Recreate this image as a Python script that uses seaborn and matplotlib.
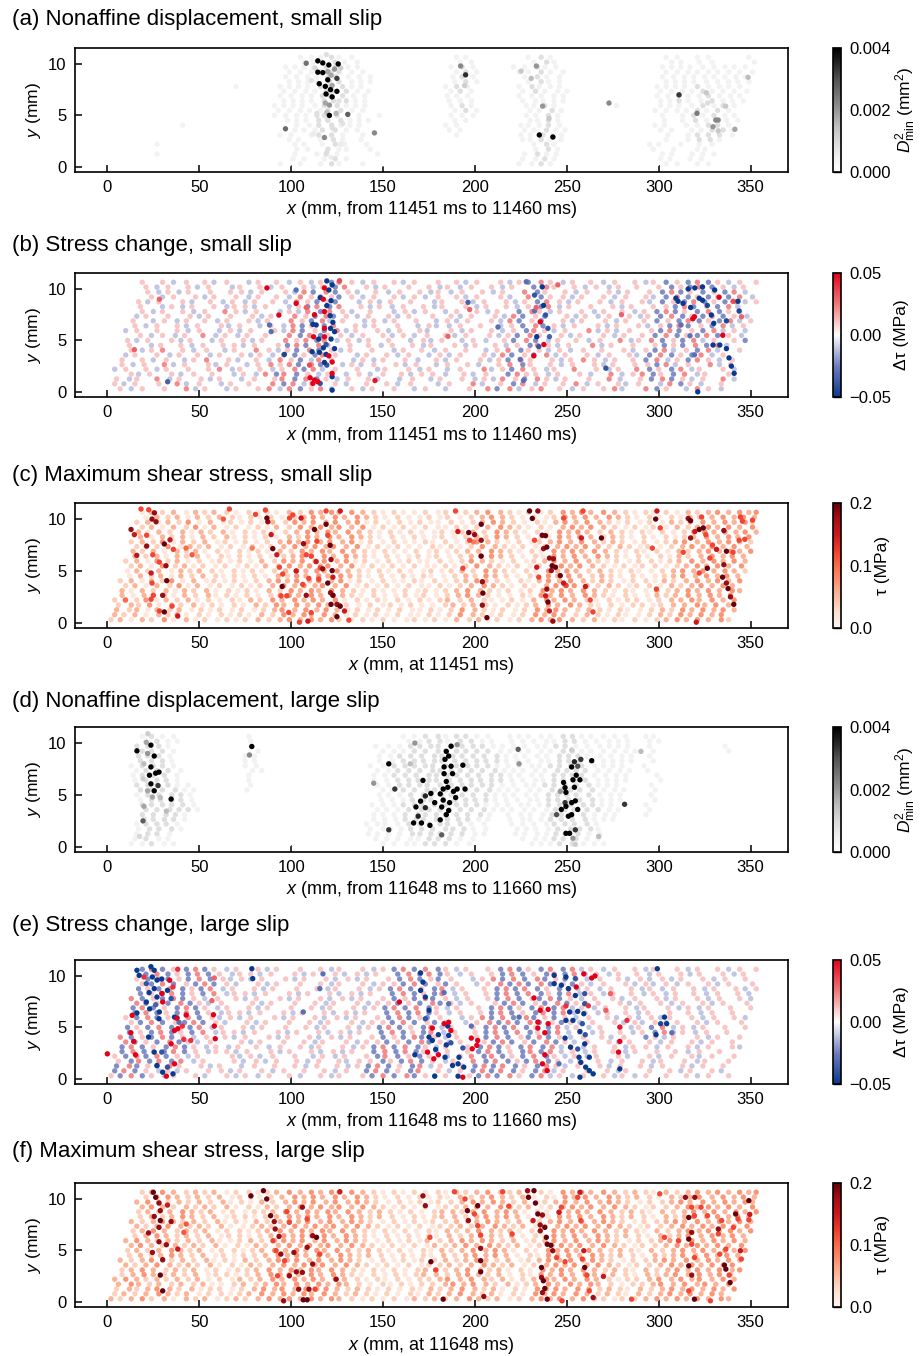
import numpy as np
import pandas as pd
import matplotlib
matplotlib.use("Agg")
import matplotlib.pyplot as plt
import seaborn as sns
from matplotlib.colors import LinearSegmentedColormap, Normalize
from matplotlib.ticker import FuncFormatter

sns.set_style("ticks")
plt.rcParams["font.family"] = ["Liberation Sans", "DejaVu Sans"]
plt.rcParams["mathtext.fontset"] = "custom"
plt.rcParams["mathtext.rm"] = "Liberation Sans"
plt.rcParams["mathtext.it"] = "Liberation Sans:italic"
for key in ["text.color", "axes.labelcolor", "xtick.color", "ytick.color", "axes.edgecolor"]:
    plt.rcParams[key] = "black"

# particle layer heights (mm) and x positions along each layer (mm)
ROW_Y = [0.3, 0.78, 1.25, 1.72, 2.2, 2.65, 3.1, 3.58, 4.05, 4.52, 5.0, 5.48,
         5.95, 6.42, 6.9, 7.35, 7.8, 8.28, 8.75, 9.22, 9.7, 10.18, 10.65]
ROW_X = [
    [2,7,13,19,24,31,36,43,48,53,60,65,70,75,82,88,94,99,105,111,116,122,126,133,139,144,150,156,163,167,173,178,184,190,197,202,207,212,219,224,231,236,241,246,253,259,265,270,276,280,287,293,299,304,310,315,321,327,334,338],
    [4,9,15,21,28,33,38,43,50,55,62,67,72,77,84,90,96,101,107,111,118,124,130,135,141,146,152,158,165,169,175,180,186,192,199,204,209,214,221,226,233,238,243,248,255,261,267,272,278,282,289,295,301,306,312,317,323,329,334],
    [5,12,16,22,27,34,39,46,51,56,61,68,73,80,85,91,95,102,108,114,119,125,131,136,142,147,153,159,166,170,176,181,187,193,200,205,210,215,222,227,234,239,244,249,256,262,268,273,279,283,290,296,302,307,313,318,324,330,335,341],
    [6,13,17,23,28,35,40,47,52,57,62,69,74,81,86,92,96,103,109,115,120,126,130,137,143,150,154,160,165,171,177,184,188,194,199,206,211,218,223,228,233,240,245,252,257,263,267,274,280,286,291,297,301,308,314,321,325,331,338],
    [4,10,16,21,27,32,38,44,49,55,61,68,72,78,83,90,95,102,107,112,117,124,129,136,141,147,151,158,164,170,175,181,185,192,198,205,209,215,220,226,232,239,243,249,254,261,266,273,278,283,288,295,300,307,312,318,322,329,335,341],
    [8,14,20,25,31,36,42,48,55,59,65,70,76,82,89,94,99,104,111,116,123,128,133,138,145,151,157,162,168,172,179,185,191,196,202,207,213,219,226,230,236,241,247,253,260,265,270,275,282,287,294,299,304,309,316,322,328,333,339],
    [8,13,19,25,32,37,42,47,54,59,66,71,76,81,88,94,100,105,111,115,122,128,134,139,145,150,156,162,169,173,179,184,190,196,203,208,213,218,225,230,237,242,247,252,259,265,271,276,282,286,293,299,305,310,316,321,327,333,340,344],
    [10,15,21,27,34,39,44,49,56,61,68,73,78,83,90,96,102,107,113,117,124,130,136,141,147,152,158,164,171,175,181,186,192,198,205,210,215,220,227,232,239,244,249,254,261,267,273,278,284,288,295,301,307,312,318,323,329,335,340],
    [7,13,19,24,30,35,41,47,54,58,64,69,75,81,88,93,98,103,110,115,122,127,132,137,144,150,156,161,167,171,178,184,190,195,201,206,212,218,225,229,235,240,246,252,259,264,269,274,281,286,293,298,303,308,315,321,327,332,338,344],
    [12,18,24,29,35,40,46,52,59,63,69,74,80,86,93,98,103,108,115,120,127,132,137,142,149,155,161,166,172,176,183,189,195,200,206,211,217,223,230,234,240,245,251,257,264,269,274,279,286,291,298,303,308,313,320,326,332,337,343],
    [11,16,22,28,35,40,45,50,57,62,69,74,79,84,91,97,103,108,114,118,125,131,137,142,148,153,159,165,172,176,182,187,193,199,206,211,216,221,228,233,240,245,250,255,262,268,274,279,285,289,296,302,308,313,319,324,330,336,341,347],
    [13,18,24,30,37,42,47,52,59,64,71,76,81,86,93,99,105,110,116,120,127,133,139,144,150,155,161,167,174,178,184,189,195,201,208,213,218,223,230,235,242,247,252,257,264,270,276,281,287,291,298,304,310,315,321,326,332,338,345],
    [10,16,22,27,33,38,44,50,57,61,67,72,78,84,91,96,101,106,113,118,125,130,135,140,147,153,159,164,170,174,181,187,193,198,204,209,215,221,228,232,238,243,249,255,262,267,272,277,284,289,296,301,306,311,318,324,330,335,341,347],
    [15,21,27,32,38,43,49,55,62,66,72,77,83,89,96,101,106,111,118,123,130,135,140,145,152,158,164,169,175,179,186,192,198,203,209,214,220,226,233,237,243,248,254,260,267,272,277,282,289,294,301,306,311,316,323,329,335,340,346],
    [14,19,25,31,38,43,48,53,60,65,72,77,82,87,94,100,106,111,117,121,128,134,140,145,151,156,162,168,175,179,185,190,196,202,209,214,219,224,231,236,243,248,253,258,265,271,277,282,288,292,299,305,311,316,322,327,333,339,344,350],
    [16,21,27,33,40,45,50,55,62,67,74,79,84,89,96,102,108,113,119,123,130,136,142,147,153,158,164,170,177,181,187,192,198,204,211,216,221,226,233,238,245,250,255,260,267,273,279,284,290,294,301,307,313,318,324,329,335,341,348],
    [13,19,25,30,36,41,47,53,60,64,70,75,81,87,94,99,104,109,116,121,128,133,138,143,150,156,162,167,173,177,184,190,196,201,207,212,218,224,231,235,241,246,252,258,265,270,275,280,287,292,299,304,309,314,321,327,333,338,344,350],
    [18,24,30,35,41,46,52,58,65,69,75,80,86,92,99,104,109,114,121,126,133,138,143,148,155,161,167,172,178,182,189,195,201,206,212,217,223,229,236,240,246,251,257,263,270,275,280,285,292,297,304,309,314,319,326,332,338,343,349],
    [17,22,28,34,41,46,51,56,63,68,75,80,85,90,97,103,109,114,120,124,131,137,143,148,154,159,165,171,178,182,188,193,199,205,212,217,222,227,234,239,246,251,256,261,268,274,280,285,291,295,302,308,314,319,325,330,336,342,347,353],
    [19,24,30,36,43,48,53,58,65,70,77,82,87,92,99,105,111,116,122,126,133,139,145,150,156,161,167,173,180,184,190,195,201,207,214,219,224,229,236,241,248,253,258,263,270,276,282,287,293,297,304,310,316,321,327,332,338,344,351],
    [16,22,28,33,39,44,50,56,63,67,73,78,84,90,97,102,107,112,119,124,131,136,141,146,153,159,165,170,176,180,187,193,199,204,210,215,221,227,234,238,244,249,255,261,268,273,278,283,290,295,302,307,312,317,324,330,336,341,347,351],
    [21,27,33,38,44,49,55,61,68,72,78,83,89,95,102,107,112,117,124,129,136,141,146,151,158,164,170,175,181,185,192,198,204,209,215,220,226,232,239,243,249,254,260,266,273,278,283,288,295,300,307,312,317,322,329,335,341,346,352],
    [19,24,30,36,43,48,53,58,65,70,77,82,87,92,99,105,111,116,122,126,133,139,145,150,156,161,167,173,180,184,190,195,201,207,214,219,224,229,236,241,248,253,258,263,270,276,282,287,293,297,304,310,316,321,327,332,338,344,349,353],
]

# colour level of every particle (one digit each), layer by layer from the bottom
LEVELS_A = [
    "0000000000 0000001010 1210100000 0000000001 1210000000 0001101100",
    "0000000000 0000000110 1210000000 0000000001 1210000000 001101100",
    "0000100000 0000000101 2100010000 0000000001 2110000000 0011011100",
    "0000000000 0000000110 2110100000 0000000000 1210000000 010101100",
    "0000100000 0000000110 1210100000 0000000000 1210000000 0110101100",
    "0000000000 0000001101 2101000000 0000000011 2110000000 001012210",
    "0000000000 0000011012 2101000000 0010000011 2110000000 0010122210",
    "0000000000 0000001112 2110000000 0110000011 2110000000 011011221",
    "0000001000 0000000112 2111000000 0110000011 1210000000 0110112210",
    "0000000000 0000011122 2111000000 0110000011 2100000000 010121211",
    "0000000000 0000111122 2110100000 0111000011 2100000000 0101212110",
    "0000000000 0000111112 2110000000 0121000011 2100000000 111121210",
    "0000000000 0000111112 2111000000 0121000011 2100000100 0111121210",
    "0000000000 0000111122 2110000000 1110000111 1100000000 112112111",
    "0000000000 0000111122 2110000000 1110000111 1100000000 1121121110",
    "0000000000 0000111122 2110000000 1210000121 1100000000 111121111",
    "0000000000 1000111122 2110000000 1210000121 1100000000 1111211110",
    "0000000000 0000111122 1110000000 1210000121 1000000000 111111111",
    "0000000000 0000111122 1110000000 1210000121 1000000000 1111111110",
    "0000000000 0000111122 1100000000 1210001121 1000000000 111111111",
    "0000000000 0000111122 1100000000 1210001121 1000000000 1111111110",
    "0000000000 0000011121 1000000000 1100000121 0000000000 110110001",
    "0000000000 0000011121 1000000000 1100000121 0000000000 1101100010",
]
LEVELS_B = [
    "5646565746 5465674736 7456465654 6545657374 6756465674 5736547645",
    "6465657465 4656573746 5645656465 5465745637 4656746564 654736456",
    "6465746564 6546567373 6465645465 4656464763 7646565745 6373646574",
    "5646564656 5464737364 6546465646 6456465376 6465645746 736374656",
    "4656465656 7465646737 4656546564 6546574637 6465756465 7363746564",
    "6465746564 6546767373 5464656465 4656456736 5646564656 637465746",
    "6564654675 6456476347 6546465645 6465646376 5646764656 3746376465",
    "4656465646 5646473637 6546564654 6465647363 7465646564 373637465",
    "5646756465 4657646373 6465654656 4656546736 6464656564 6374637456",
    "6546564656 6465637374 5656465646 5646564637 6465746565 636373745",
    "6465646546 5646576737 4646565464 6546456373 4656465746 7363746563",
    "5646465746 4656573736 6465646465 6465646376 5646564656 373637364",
    "4656564654 6465647363 7465646564 5646564637 6465746465 6373637464",
    "6465646564 6546473637 5646565464 4656546373 6465646564 637363746",
    "6546465646 5646576374 6546465654 6465647363 5646564656 3637363746",
    "4656564656 5646576373 6465646565 6465647363 5646465646 373637364",
    "5646564657 6465464737 6456546465 4656465376 4656465646 3736373645",
    "6546465646 6465463737 5646465646 5646564637 4656564656 637363745",
    "6465645646 4656476363 5464656546 5646564637 6465646564 3637363746",
    "5646564656 4656476363 6465646465 6465645736 6465646564 373636374",
    "5646465656 6465647373 6456465646 4656465736 5646564656 3736363745",
    "6465646546 5646564637 5646565646 4656465376 5646465656 363736465",
    "6564656465 4656464637 6465646565 6465646376 4656465646 3637364656",
]
LEVELS_C = [
    "2313241312 1212323434 3421212112 1213231212 3434323121 2123434342",
    "3231324121 2121324343 4312121211 2124321212 4343232121 123243434",
    "3231323121 2121234343 4312121211 2124321212 4343232121 1232434343",
    "2324132312 1213243434 3421212121 1232321212 3434321212 212334343",
    "2324132312 1213243434 3412121212 1232321121 3434321212 2123343434",
    "3132313231 2121234343 4321211212 1234321121 4343432121 132343434",
    "3132313231 2121324343 4321211212 1234321212 4343432121 1323434343",
    "2313241312 1212343434 3412121211 2123432121 3434323212 213234343",
    "2313241312 1212343434 3412121121 2123432121 3434323212 2132343434",
    "1323132321 2121324343 4321212121 1232432121 4343232121 123434343",
    "1323132321 2121234343 4321212112 1232432121 4343232121 1234343432",
    "2314231212 1213243434 3412121211 2124321212 3434321212 212343434",
    "2314231212 1213243434 3412121211 2124321212 3434321212 2123434343",
    "3231323121 2121234343 4321211212 1233432121 4343432121 213234343",
    "3231323121 2121324343 4321211212 1233432121 4343432121 2132343434",
    "2324132312 1212343434 3412121121 2124321212 3434323212 123434343",
    "2324132312 1212343434 3412121121 2124321212 3434323212 1234343432",
    "3132313231 2121324343 4321212112 1232432121 4343232121 212343434",
    "3132313231 2121234343 4321212112 1232432121 4343232121 2123434343",
    "2313241312 1213243434 3412121211 2123432121 3434321212 132343434",
    "2313241312 1213243434 3412121211 2123432121 3434321212 1323434342",
    "1323132321 2121234343 4321211212 1234321212 4343432121 213234343",
    "1323132321 2121324343 4321211212 1234321212 4343432121 2132343434",
]
LEVELS_D = [
    "0011211000 0000000000 0000001111 2221100000 1112211100 0000000000",
    "0012110000 0000000000 0000011111 2221100001 1122211000 000000000",
    "0012210000 0000000000 0000111122 2222110011 1122211000 0000000000",
    "0012221000 0000000000 0000111122 2222110011 1122221000 000000000",
    "0012221000 0000000000 0000111122 2222110011 1122221000 0000000000",
    "0022221000 0000000000 0000111222 2222110111 1222211100 000000000",
    "0022221000 0000000000 0000111222 2222210111 1222211100 1000000000",
    "0022222100 0000000000 0000111222 2222211111 1222221100 100000000",
    "0022222100 0000000000 0000111222 2222211111 1222221100 1000000000",
    "0122221000 0000000000 0000111222 2222211111 2222211100 100000000",
    "0122221000 0000000000 0000111222 2222211111 2222211100 1000000000",
    "0222211000 0100000000 0000112222 2222211111 2222211100 100000000",
    "0222211000 0010000000 0000112222 2222221111 2222211100 1000000000",
    "1222100000 0100000000 0001122222 2222221111 2222111100 100000000",
    "1222100000 0100000000 0001122222 2222221111 2222111100 1000000000",
    "1222100000 0110000000 0001122222 2222211111 2222111101 000000000",
    "1222100000 0110000000 0001122222 2222211111 2222111101 0000000000",
    "2221000000 1100000000 0001122222 2222211111 2221111101 000000000",
    "2221000000 1100000000 0001122222 2222211111 2221111101 0000000000",
    "2221000000 0100000000 0001112222 2222111111 2211111101 000000100",
    "2221000000 0100000000 0001112222 2222111111 2211111101 0000001000",
    "1211000000 1000000000 0000011221 2211011111 2211111011 000000000",
    "1211000000 1000000000 0000011221 2211011111 2211111011 0000000000",
]
LEVELS_E = [
    "6373646564 5646465645 6465637373 6465637376 3746465646 4656564656",
    "3736464656 6465646565 6465373637 5646373736 3746565646 565646564",
    "3736376564 6546565646 5646373637 4656373736 3764656465 6465646565",
    "6373737465 5646465646 5646636373 6465737363 7364656465 646564656",
    "6373736465 5646465654 6465637363 6546737363 7364646564 5646564656",
    "3736373646 6465646564 6465373736 4656373637 3746465646 565646565",
    "3736373646 4656465646 5646373736 4656373637 3746465646 6465646564",
    "7363736465 5646565646 5646636373 6465637363 7364656465 646564656",
    "7363736465 6465646564 6465636373 6465637363 7364656465 3646564656",
    "3637363746 6465646564 6465373637 4656373736 3746465646 374646565",
    "3637363746 5646565646 5646373637 4656373736 3746465646 3746465656",
    "6373637364 5646565646 5646637363 6546737373 6364656464 646564656",
    "6373637364 6465646564 6465637363 6546737373 6364656464 6465646564",
    "3736373646 6465646564 6465373736 4656373637 3746465646 565646565",
    "3736373646 5646565646 5646373736 4656373637 3746465646 5646465656",
    "7363736465 5646565646 5646636373 6465637363 7364656465 646564656",
    "7363736465 6465646564 6465636373 6465637363 7364656465 6465646564",
    "3637363746 6465646564 6465373637 4656373736 3746465646 465646564",
    "3637363746 5646565646 5646373637 4656373736 3746465646 4656465646",
    "6373637364 5646565646 5646637363 6546737373 6364656464 646564656",
    "6373637364 6465646564 6465637363 6546737373 6364656464 6465646565",
    "3736373646 6465646564 6465373736 4656373637 3746465646 564656465",
    "3736373646 5646565646 5646373736 4656373637 3746465646 5646564656",
]
LEVELS_F = [
    "3234231323 1232343434 3432121213 2323432312 3434343212 2343434343",
    "2323432312 2123434343 4323212121 3234323121 4343432321 323434343",
    "2323432312 2123434343 4323212121 3234323121 4343432321 3234343434",
    "3432323231 1232343434 3432121212 2343432312 3434343212 234343434",
    "3432323231 2132343434 3432121212 2343432312 3434343212 2343434343",
    "2343232312 2123434343 4321212123 3234323121 4343432321 323434343",
    "2343232312 1223434343 4321212123 3234323121 4343432321 3234343434",
    "3234323231 2132343434 3432121212 2323432312 3434343212 234343434",
    "3234323231 2132343434 3432121212 2323432312 3434343212 2343434343",
    "2323432312 1223434343 4323212121 3234343121 4343432321 323434343",
    "2323432312 2123434343 4323212121 3234343121 4343432321 3234343434",
    "3432323231 2132343434 3432121213 2343432312 3434343212 234343434",
    "3432323231 1232343434 3432121213 2343432312 3434343212 2343434343",
    "2343232312 2123434343 4321212121 3234323121 4343432321 323434343",
    "2343232312 2123434343 4321212121 3234323121 4343432321 3234343434",
    "3234323231 1232343434 3432121212 2323432312 3434343212 234343434",
    "3234323231 2132343434 3432121212 2323432312 3434343212 2343434343",
    "2323432312 2123434343 4323212123 3234343121 4343432321 323434343",
    "2323432312 1223434343 4323212123 3234343121 4343432321 3234343434",
    "3432323231 2132343434 3432121212 2343432312 3434343212 234343434",
    "3432323231 2132343434 3432121212 2343432312 3434343212 2343434343",
    "2343232312 2123434343 4321212121 3234323121 4343432321 323434343",
    "2343232312 2123434343 4321212121 3234323121 4343432321 3234343434",
]

# strongly coloured particles: (x mm, y mm, value)
POINTS_A = [
    (108.2,10.07,0.0025),(114.5,10.3,0.004),(117.2,10.1,0.004),(120.5,9.9,0.004),(125.6,10.0,0.004),
    (114.5,9.2,0.004),(117.2,9.16,0.004),(119.9,9.26,0.0018),(123.6,9.5,0.002),(121.7,8.9,0.0018),
    (124.9,8.6,0.0032),(119.9,8.46,0.004),(115.3,8.08,0.004),(118.6,7.82,0.004),(122.3,7.9,0.0018),
    (124.9,7.34,0.004),(121.4,7.5,0.004),(119.0,7.08,0.004),(122.3,6.8,0.004),(118.6,6.2,0.0018),
    (120.8,6.0,0.002),(119.4,5.3,0.0015),(120.8,5.0,0.004),(124.5,5.2,0.0016),(130.8,5.1,0.0028),
    (96.9,3.7,0.0026),(118.1,2.85,0.0022),(145.3,3.3,0.0022),(119.7,4.6,0.0008),(122.3,3.8,0.0009),
    (119.4,1.4,0.0008),(121.7,0.94,0.0006),(119.2,10.9,0.0009),(113,9.6,0.001),(111,8.4,0.0008),
    (127,9.6,0.0012),(126,6.4,0.0008),(114,5.2,0.0008),(128,4.2,0.0008),(112,3.2,0.0006),(127,2.2,0.0006),
    (192.2,9.8,0.0022),(194.9,8.94,0.0034),(194.4,7.9,0.0012),(233.4,9.8,0.002),(230.6,8.6,0.0015),
    (225.1,9.3,0.0013),(236.8,5.9,0.002),(240.3,4.7,0.0013),(235.0,3.1,0.004),(242.4,2.9,0.004),
    (272.9,6.2,0.0022),(311.0,7.0,0.0033),(320.8,5.2,0.0024),(325.9,7.2,0.0013),(331.0,4.55,0.0022),
    (332.3,4.55,0.0022),(329.5,3.9,0.002),(332.3,3.5,0.0013),(341.4,3.65,0.0018),(348.6,8.7,0.0015),
    (336.4,5.9,0.0013),(326.6,6.2,0.0009),
]
POINTS_B = [
    (119.4,10.78,-0.05),(122.3,10.39,-0.05),(120.5,9.9,-0.05),(115.8,9.15,-0.05),(121.7,8.86,-0.05),
    (119.4,8.38,-0.05),(121.2,7.4,-0.05),(122.7,6.76,-0.05),(111.8,6.56,-0.05),(113.6,6.5,-0.05),
    (121.4,6.17,-0.05),(123.6,5.85,-0.05),(115.0,5.13,-0.05),(121.7,5.13,-0.05),(119.0,4.6,-0.04),
    (117.5,4.28,-0.05),(111.4,3.9,-0.05),(115.4,3.84,-0.05),(119.0,3.64,-0.05),(123.6,4.2,-0.05),
    (118.1,2.86,-0.05),(119.4,2.6,-0.04),(122.3,1.47,-0.05),(115.8,0.82,-0.04),(122.3,0.17,-0.05),
    (96.3,3.64,-0.045),(88.2,6.5,-0.03),(89.1,5.85,-0.03),(32.8,0.98,-0.035),(102.7,9.9,-0.03),
    (236.6,10.2,-0.05),(232.4,9.4,-0.04),(227.9,10.7,-0.03),(237.3,8.4,-0.05),(232.4,7.86,-0.03),
    (238.4,7.47,-0.04),(239.7,6.17,-0.04),(233.6,5.36,-0.05),(240.5,5.36,-0.035),(234.7,4.4,-0.04),
    (224.6,3.15,-0.03),(212.5,6.3,-0.03),(196.2,8.7,-0.035),(271.2,2.3,-0.04),(226.4,1.1,-0.03),
    (310.5,8.8,-0.05),(313.2,8.6,-0.05),(309.3,9.1,-0.05),(316.0,10.0,-0.05),(319.6,10.1,-0.05),
    (323.8,10.2,-0.05),(322.0,9.1,-0.05),(323.8,8.9,-0.05),(317.3,8.2,-0.05),(330.4,9.9,-0.05),
    (326.4,8.4,-0.045),(328.6,7.47,-0.05),(329.9,6.66,-0.05),(336.8,6.9,-0.045),(343.1,8.8,-0.05),
    (343.7,7.86,-0.045),(329.5,4.55,-0.05),(333.2,4.55,-0.05),(336.8,4.2,-0.05),(338.2,3.3,-0.05),
    (339.5,2.5,-0.05),(341.0,1.8,-0.05),(321.2,0.0,-0.05),(319.4,3.6,-0.03),(317.0,5.45,-0.03),
    (312.1,6.5,-0.03),
    (86.8,10.1,0.05),(102.7,8.6,0.05),(93.3,7.46,0.05),(112.7,7.5,0.05),(118.1,10.1,0.05),
    (117.5,9.0,0.05),(118.1,7.8,0.05),(118.1,6.17,0.05),(112.2,5.35,0.05),(118.1,5.35,0.05),
    (110.0,2.6,0.035),(110.3,1.37,0.05),(112.7,1.15,0.05),(114.5,0.98,0.05),(111.8,0.82,0.05),
    (120.5,3.5,0.05),(122.3,2.9,0.05),(122.3,1.8,0.05),(145.6,1.1,0.045),(28.3,9.0,0.03),
    (14.7,4.1,0.03),(126.3,10.8,0.035),(108.2,8.2,0.03),(235.5,6.8,0.05),(237.5,4.6,0.05),
    (232.0,3.5,0.05),(233.3,8.2,0.03),(319.4,7.3,0.05),(318.5,7.1,0.05),(332.8,9.2,0.05),
    (334.8,5.5,0.05),(340.4,8.8,0.035),(345.0,7.3,0.03),(197.1,8.0,0.03),(185.3,5.4,0.03),
    (245.1,10.4,0.03),(279.7,7.5,0.03),
]
POINTS_C = [
    (12.9,9.0,0.18),(14.7,8.5,0.15),(16.0,6.5,0.16),(18.3,10.97,0.12),(21.4,8.44,0.12),(21.4,7.4,0.18),
    (22.5,10.9,0.12),(24.3,10.0,0.18),(25.6,10.6,0.18),(26.5,9.74,0.18),(24.7,6.56,0.12),(23.8,4.8,0.15),
    (24.3,3.83,0.12),(25.0,2.65,0.12),(30.1,2.65,0.18),(31.0,7.6,0.2),(31.9,5.5,0.18),(34.1,8.0,0.15),
    (32.3,4.06,0.2),(28.3,1.14,0.12),(31.0,1.05,0.2),(35.2,1.6,0.12),(38.3,0.65,0.15),(35.9,7.08,0.12),
    (28.3,5.85,0.12),(23.8,2.27,0.12),(9.8,2.2,0.1),
    (80.6,10.45,0.12),(86.0,10.87,0.12),(86.8,10.1,0.2),(87.3,9.74,0.18),(89.1,8.5,0.15),(90.0,7.15,0.2),
    (92.2,6.56,0.15),(93.6,5.36,0.12),(95.4,4.7,0.12),(95.1,3.5,0.2),(94.5,2.6,0.12),(97.6,2.6,0.12),
    (102.7,5.0,0.15),(106.3,3.7,0.12),(108.2,2.65,0.18),(106.7,7.63,0.18),(105.4,10.1,0.15),(108.2,6.56,0.12),
    (110.9,6.43,0.12),(112.7,9.0,0.2),(114.0,7.86,0.12),(113.6,5.9,0.15),(115.8,5.3,0.12),(117.2,5.2,0.18),
    (119.0,9.5,0.2),(119.9,8.44,0.12),(121.2,7.47,0.2),(121.7,6.1,0.18),(122.3,5.03,0.2),(122.7,4.4,0.15),
    (119.9,3.83,0.2),(121.4,2.9,0.18),(122.7,2.65,0.2),(121.7,1.78,0.2),(124.9,1.78,0.18),(126.7,1.6,0.2),
    (129.0,1.14,0.15),(131.4,0.26,0.12),(124.9,0.59,0.2),(115.0,4.22,0.12),(109.6,4.28,0.12),(98.7,1.0,0.12),
    (104.5,0.06,0.12),(109.1,0.16,0.15),(110.9,0.98,0.12),(100.9,10.4,0.12),(99.1,10.1,0.12),(119.0,10.78,0.12),
    (126.7,10.78,0.15),(78.8,7.2,0.09),(66.4,10.97,0.12),(63.1,10.0,0.11),(42.8,7.2,0.1),(46.1,6.56,0.11),
    (189.4,10.78,0.12),(190.7,8.8,0.15),(196.6,8.7,0.2),(197.1,7.96,0.12),(199.8,8.5,0.18),(203.4,9.5,0.2),
    (203.4,7.96,0.18),(203.4,6.43,0.2),(204.0,3.96,0.18),(204.3,2.86,0.2),(204.0,1.7,0.18),(206.5,0.5,0.2),
    (193.4,5.26,0.12),(199.2,7.8,0.09),
    (229.7,10.78,0.2),(234.2,10.78,0.18),(231.2,10.06,0.2),(236.6,8.44,0.2),(238.4,8.4,0.2),(232.4,7.96,0.12),
    (239.1,7.3,0.2),(237.3,7.15,0.18),(240.5,6.24,0.18),(242.7,6.17,0.18),(242.0,5.5,0.2),(243.8,5.36,0.2),
    (241.5,5.03,0.18),(233.6,5.36,0.15),(234.7,4.4,0.12),(246.4,4.55,0.2),(248.2,3.83,0.15),(239.1,3.25,0.18),
    (238.4,2.6,0.15),(239.7,2.0,0.2),(240.5,1.14,0.15),(242.4,0.16,0.18),(249.6,3.6,0.12),(260.1,3.5,0.15),
    (262.7,2.2,0.12),(264.2,1.05,0.12),(257.9,8.18,0.15),(268.8,8.18,0.2),(248.2,10.1,0.12),(258.8,10.78,0.12),
    (299.0,10.78,0.15),(298.3,10.0,0.2),(300.8,9.15,0.12),(296.5,7.2,0.12),(316.0,10.06,0.18),(317.3,9.84,0.2),
    (323.3,10.2,0.12),(322.0,9.0,0.2),(324.2,9.15,0.2),(319.6,8.8,0.15),(317.3,8.18,0.18),(325.6,8.5,0.12),
    (329.2,7.5,0.12),(331.4,7.08,0.15),(335.4,8.9,0.18),(336.8,6.9,0.2),(335.4,5.6,0.18),(334.7,4.4,0.2),
    (336.8,3.83,0.18),(337.7,3.3,0.2),(339.0,2.5,0.18),(340.8,1.78,0.2),(326.4,5.26,0.2),(327.8,6.24,0.12),
    (322.0,4.8,0.12),(313.3,6.8,0.12),(340.4,6.8,0.12),(346.8,8.05,0.12),(343.7,7.96,0.12),(344.4,10.2,0.12),
    (345.5,9.8,0.12),(351.0,9.9,0.12),(320.4,0.06,0.15),(298.7,3.25,0.12),
]
POINTS_D = [
    (16.1,9.25,0.004),(23.7,9.8,0.004),(21.9,9.0,0.002),(25.5,8.75,0.004),(23.7,7.7,0.004),(22.9,6.9,0.004),
    (26.3,7.1,0.004),(28.1,7.2,0.004),(23.7,6.07,0.004),(27.6,5.9,0.0033),(25.5,5.4,0.004),(21.9,5.4,0.0018),
    (34.7,4.6,0.004),(24.5,4.8,0.0018),(19.4,2.5,0.0028),(19.9,3.9,0.0018),(19.4,6.56,0.0012),(21.2,10.07,0.0018),
    (19.9,8.0,0.0015),(28.8,4.75,0.0015),(32.1,3.44,0.0015),(22.0,10.9,0.0012),(17.5,1.0,0.001),
    (78.6,9.67,0.004),(77.3,8.85,0.0022),
    (153.1,8.0,0.004),(156.4,5.57,0.0033),(144.9,6.13,0.002),(153.1,1.64,0.0033),(167.3,10.0,0.002),
    (166.6,2.3,0.004),(170.9,2.3,0.004),(175.5,2.07,0.004),(169.1,2.95,0.0035),(173.0,3.77,0.0035),
    (167.9,3.84,0.004),(170.4,4.4,0.004),(176.0,5.15,0.004),(171.7,6.4,0.004),(178.1,4.26,0.004),
    (181.1,2.6,0.004),(184.4,3.1,0.004),(181.9,3.84,0.004),(182.7,4.5,0.004),(181.1,5.1,0.004),
    (182.7,5.57,0.004),(184.4,6.3,0.004),(183.2,7.05,0.004),(183.2,7.7,0.004),(183.7,8.43,0.004),
    (184.4,9.2,0.004),(187.0,9.7,0.004),(185.7,8.75,0.004),(187.0,7.77,0.004),(187.8,7.05,0.004),
    (185.2,5.74,0.004),(188.3,5.34,0.004),(189.5,4.75,0.004),(186.2,4.26,0.004),(185.7,3.5,0.004),
    (190.3,5.57,0.004),(194.6,5.57,0.004),(193.4,7.87,0.004),(190.3,9.84,0.002),(181.9,1.15,0.0028),
    (173.0,4.9,0.0035),(164.8,8.0,0.0015),
    (223.5,9.4,0.0028),(224.0,8.0,0.002),(247.0,3.6,0.004),(244.4,3.1,0.003),(248.2,6.2,0.004),
    (249.0,5.7,0.004),(249.5,5.25,0.004),(249.0,4.26,0.0033),(249.5,3.9,0.004),(246.4,5.34,0.002),
    (252.6,7.7,0.004),(254.1,8.2,0.0035),(255.9,7.77,0.003),(255.1,6.9,0.004),(257.1,6.46,0.004),
    (253.3,6.46,0.004),(254.1,5.74,0.004),(254.6,4.43,0.004),(252.6,4.26,0.004),(255.9,3.6,0.004),
    (252.6,3.1,0.004),(250.8,2.95,0.004),(249.5,1.3,0.004),(251.5,1.3,0.004),(254.6,1.64,0.0033),
    (253.3,0.82,0.002),(254.6,0.23,0.0012),(257.6,8.43,0.0033),(263.5,8.3,0.004),(252.6,9.34,0.0012),
    (281.4,4.1,0.0033),(267.3,1.0,0.0015),(290.3,9.2,0.0015),
]
POINTS_E = [
    (16.1,10.55,-0.05),(17.3,10.06,-0.05),(23.7,10.9,-0.05),(25.5,10.55,-0.05),(24.5,9.9,-0.05),
    (27.0,9.6,-0.05),(29.6,9.7,-0.05),(21.2,9.25,-0.04),(25.5,8.77,-0.05),(32.7,8.6,-0.05),
    (22.7,8.38,-0.05),(27.0,7.95,-0.05),(21.2,7.47,-0.05),(34.7,7.8,-0.04),(23.0,6.8,-0.05),
    (28.3,6.5,-0.05),(26.3,7.2,-0.035),(16.1,6.4,-0.05),(36.5,6.0,-0.05),(28.1,5.84,-0.05),
    (39.0,5.5,-0.03),(22.4,4.06,-0.05),(25.5,2.6,-0.05),(29.6,2.6,-0.04),(27.0,1.3,-0.05),
    (30.1,0.65,-0.05),(35.7,0.49,-0.05),(32.7,1.14,-0.04),(78.6,10.7,-0.05),(79.1,9.74,-0.05),
    (117.3,10.2,-0.03),(115.6,8.77,-0.03),(106.6,6.5,-0.03),
    (170.4,10.3,-0.05),(171.7,9.4,-0.05),(170.4,8.6,-0.05),(173.0,7.95,-0.05),(175.0,6.66,-0.05),
    (173.0,5.84,-0.04),(167.3,2.34,-0.05),(175.0,4.06,-0.05),(176.8,3.73,-0.05),(180.1,4.29,-0.05),
    (185.7,4.22,-0.05),(184.4,3.3,-0.05),(186.9,3.5,-0.04),(185.2,5.13,-0.05),(178.6,2.86,-0.05),
    (183.7,2.1,-0.05),(187.8,1.3,-0.05),(190.8,1.46,-0.05),(191.3,2.1,-0.05),(193.9,1.14,-0.05),
    (178.1,0.26,-0.05),(190.8,0.26,-0.05),(193.4,3.0,-0.04),(198.0,5.13,-0.03),(183.2,8.38,-0.03),
    (185.7,7.3,-0.03),
    (243.1,10.06,-0.05),(247.0,9.1,-0.05),(243.1,9.25,-0.05),(250.8,8.77,-0.05),(249.5,9.9,-0.05),
    (254.6,9.74,-0.04),(254.6,8.1,-0.05),(259.7,8.28,-0.04),(251.5,6.5,-0.05),(255.9,6.56,-0.05),
    (259.7,7.3,-0.04),(259.2,6.33,-0.05),(249.5,5.68,-0.05),(253.3,5.68,-0.05),(258.4,5.36,-0.04),
    (257.1,4.6,-0.05),(260.0,4.29,-0.04),(249.0,3.96,-0.05),(259.7,3.4,-0.05),(255.9,2.9,-0.04),
    (252.0,3.08,-0.05),(256.6,2.1,-0.05),(262.2,2.1,-0.05),(257.6,1.6,-0.05),(260.2,1.14,-0.05),
    (262.2,0.8,-0.05),(264.3,0.49,-0.05),(257.1,0.16,-0.05),(245.7,1.46,-0.03),(224.0,6.0,-0.03),
    (278.8,0.97,-0.05),(299.2,10.7,-0.05),(303.1,6.0,-0.05),(301.0,5.36,-0.045),(304.3,5.36,-0.05),
    (298.5,4.29,-0.05),(307.1,4.48,-0.03),
    (0.0,2.43,0.05),(12.8,4.48,0.05),(14.3,3.64,0.05),(15.3,2.34,0.05),(13.5,6.17,0.05),(19.9,9.9,0.04),
    (30.1,7.47,0.05),(29.6,8.3,0.05),(33.9,9.58,0.05),(35.7,8.93,0.04),(37.8,5.9,0.05),(36.5,4.7,0.05),
    (38.3,4.87,0.05),(34.7,3.4,0.05),(36.5,1.46,0.05),(32.1,0.26,0.05),(42.9,6.2,0.05),(40.8,5.13,0.04),
    (41.6,3.83,0.04),(45.4,3.73,0.04),(38.3,10.65,0.04),(57.7,6.23,0.05),(58.2,5.13,0.05),(58.7,3.9,0.05),
    (56.9,7.6,0.03),(58.2,9.8,0.03),
    (158.9,7.47,0.05),(176.8,4.93,0.05),(183.2,5.36,0.05),(185.7,5.5,0.05),(186.9,4.7,0.05),(174.2,2.6,0.05),
    (177.6,1.95,0.05),(180.1,2.34,0.05),(198.0,3.96,0.05),(201.5,3.73,0.05),(201.0,3.25,0.05),(198.5,2.92,0.05),
    (193.4,0.16,0.05),
    (232.1,7.86,0.05),(235.5,6.66,0.05),(239.8,6.75,0.05),(234.2,5.52,0.05),(239.8,5.36,0.05),(234.2,4.93,0.05),
    (238.0,4.48,0.05),(238.0,2.34,0.05),(236.7,1.46,0.05),(239.3,0.8,0.05),(255.1,8.93,0.05),(259.2,10.2,0.05),
    (263.5,9.8,0.05),(265.3,10.0,0.05),(249.5,7.08,0.04),(261.7,7.1,0.04),(271.2,6.66,0.03),(278.8,3.64,0.05),
    (278.1,2.6,0.05),(278.8,5.03,0.045),(282.7,5.68,0.04),(273.7,8.28,0.03),
]
POINTS_F = [
    (25.0,10.65,0.2),(26.3,10.16,0.2),(28.1,9.6,0.18),(28.8,8.86,0.18),(28.8,7.9,0.2),(25.5,8.3,0.18),
    (28.1,7.24,0.18),(22.4,6.7,0.18),(28.1,5.84,0.18),(32.1,5.55,0.18),(24.5,4.8,0.18),(30.1,4.1,0.18),
    (28.8,2.6,0.2),(30.1,1.07,0.2),(34.7,7.8,0.18),(32.7,9.4,0.15),(41.6,6.75,0.11),(42.9,7.56,0.11),
    (38.3,5.13,0.15),
    (78.1,10.3,0.2),(84.9,10.8,0.2),(86.7,10.0,0.2),(88.8,8.37,0.2),(90.8,7.8,0.18),(91.3,7.08,0.18),
    (93.4,6.36,0.18),(90.1,5.94,0.12),(91.8,4.97,0.12),(94.4,4.64,0.18),(96.4,4.0,0.12),(92.6,2.53,0.12),
    (99.0,2.53,0.18),(101.5,4.8,0.18),(95.9,0.1,0.18),(106.6,0.2,0.2),(108.7,0.2,0.2),(104.1,1.23,0.18),
    (109.7,1.23,0.18),(113.0,1.23,0.12),(106.1,9.2,0.18),(97.7,8.77,0.12),(99.0,7.73,0.12),(108.7,8.05,0.12),
    (111.7,6.43,0.18),(113.8,6.27,0.2),(102.8,2.92,0.18),(106.1,2.86,0.18),(111.7,3.67,0.18),(108.7,5.3,0.18),
    (115.6,4.64,0.12),(124.5,2.2,0.18),(126.5,10.7,0.15),
    (171.7,10.3,0.18),(173.0,9.35,0.18),(175.5,6.27,0.12),(176.0,3.9,0.2),(178.6,3.1,0.12),(182.7,0.26,0.2),
    (188.8,10.7,0.12),(195.9,8.86,0.2),(196.4,7.9,0.18),(194.6,10.0,0.12),(201.5,9.35,0.2),(199.7,8.54,0.12),
    (201.5,7.4,0.12),(203.1,6.5,0.12),(203.1,4.0,0.2),(203.1,2.92,0.2),(203.1,5.2,0.18),(204.8,0.52,0.18),
    (215.1,10.7,0.12),(218.4,9.3,0.12),(220.2,6.6,0.12),
    (228.6,10.8,0.18),(232.1,10.8,0.2),(229.1,10.16,0.2),(232.9,9.6,0.2),(234.2,8.54,0.2),(236.7,8.44,0.18),
    (235.5,7.47,0.18),(238.0,7.24,0.2),(235.5,6.9,0.18),(238.8,6.27,0.2),(239.3,5.6,0.2),(241.3,5.5,0.2),
    (242.3,4.97,0.18),(231.6,7.9,0.15),(236.2,3.34,0.2),(237.2,2.05,0.2),(238.0,1.3,0.2),(236.7,0.9,0.18),
    (239.3,0.26,0.2),(236.2,2.37,0.18),(245.7,8.7,0.15),(247.0,9.2,0.12),(244.4,4.3,0.12),(249.0,3.9,0.12),
    (247.4,0.1,0.12),(255.9,10.16,0.12),(257.1,10.65,0.15),(259.2,4.97,0.15),(257.6,7.9,0.12),(258.4,4.16,0.12),
    (259.7,3.34,0.2),(260.9,2.6,0.12),(262.2,1.07,0.12),(264.3,0.42,0.18),(269.9,2.47,0.15),(285.2,0.26,0.12),
    (314.5,10.16,0.18),(319.6,10.16,0.18),(317.9,9.2,0.12),(323.0,9.2,0.12),(316.3,8.2,0.2),(319.4,8.37,0.12),
    (326.5,8.37,0.12),(317.9,6.75,0.18),(316.3,6.1,0.2),(317.9,5.6,0.12),(319.4,4.3,0.12),(316.3,3.5,0.2),
    (317.9,2.6,0.18),(316.3,1.07,0.12),(319.4,0.26,0.2),(328.1,0.1,0.12),(332.4,7.08,0.18),(332.4,6.6,0.12),
    (334.2,7.9,0.12),(335.7,3.57,0.2),(336.5,3.18,0.2),(338.3,2.6,0.12),(338.8,1.88,0.2),(333.2,4.64,0.12),
    (336.5,5.13,0.12),(341.8,8.54,0.2),(343.1,8.05,0.12),(340.6,7.24,0.12),(344.4,4.97,0.15),(344.9,4.16,0.12),
    (349.0,7.97,0.12),(349.0,9.84,0.2),(349.5,8.5,0.15),(310.7,5.94,0.12),(303.1,6.27,0.12),(300.5,10.5,0.12),
]

TITLES = [
    "(a) Nonaffine displacement, small slip",
    "(b) Stress change, small slip",
    "(c) Maximum shear stress, small slip",
    "(d) Nonaffine displacement, large slip",
    "(e) Stress change, large slip",
    "(f) Maximum shear stress, large slip",
]
XLABELS = [
    "$x$ (mm, from 11451 ms to 11460 ms)",
    "$x$ (mm, from 11451 ms to 11460 ms)",
    "$x$ (mm, at 11451 ms)",
    "$x$ (mm, from 11648 ms to 11660 ms)",
    "$x$ (mm, from 11648 ms to 11660 ms)",
    "$x$ (mm, at 11648 ms)",
]
X_TICKS = [0, 50, 100, 150, 200, 250, 300, 350]
Y_TICKS = [0, 5, 10]

cmap_d2 = plt.get_cmap("Greys")
cmap_dtau = LinearSegmentedColormap.from_list(
    "dtau", ["#0a3a8f", "#6f7dbd", "#ffffff", "#f07a7a", "#e4001b"])
cmap_tau = plt.get_cmap("Reds")

# steps: how many digit levels span the full colour range
KINDS = {
    "d2": dict(cmap=cmap_d2, lo=0.0, hi=0.004, steps=9, ticks=[0, 0.002, 0.004], fmt="%.3f",
               label=r"$D^2_{\mathrm{min}}$ (mm$^2$)"),
    "dtau": dict(cmap=cmap_dtau, lo=-0.05, hi=0.05, steps=4.6, ticks=[-0.05, 0, 0.05], fmt="%.2f",
                 label="Δτ (MPa)"),
    "tau": dict(cmap=cmap_tau, lo=0.0, hi=0.2, steps=11, ticks=[0, 0.1, 0.2], fmt="%.1f",
                label="τ (MPa)"),
}

# pixel boxes (top, bottom) of each panel, and title centre height
BOXES = [(48, 172), (273, 397), (503, 628), (727, 852), (960, 1084), (1183, 1307)]
TITLE_Y = [20, 246, 475, 702, 925, 1152]
PANEL_KIND = ["d2", "dtau", "tau", "d2", "dtau", "tau"]
PANEL_LEVELS = [LEVELS_A, LEVELS_B, LEVELS_C, LEVELS_D, LEVELS_E, LEVELS_F]
PANEL_POINTS = [POINTS_A, POINTS_B, POINTS_C, POINTS_D, POINTS_E, POINTS_F]


def build_frame(levels, points, kind):
    k = KINDS[kind]
    recs = []
    for y, xs, lev in zip(ROW_Y, ROW_X, levels):
        codes = lev.replace(" ", "")
        for x, c in zip(xs, codes):
            d = int(c)
            if kind == "dtau":
                v = (d - 5) / k["steps"] * k["hi"]
            else:
                v = d / k["steps"] * k["hi"]
            recs.append((x, y, v))
    recs += list(points)
    df = pd.DataFrame(recs, columns=["x", "y", "v"])
    df["mag"] = df["v"].abs()
    return df.sort_values("mag", kind="stable")


def make_fmt(fmt):
    return FuncFormatter(lambda v, pos: (fmt % v).replace("-", "\u2212"))


W, H = 922, 1356
AX_L, AX_R = 75, 788
CB_L, CB_R = 833, 841

fig = plt.figure(figsize=(W / 100, H / 100), dpi=100)

for i in range(6):
    top, bottom = BOXES[i]
    k = KINDS[PANEL_KIND[i]]
    norm = Normalize(vmin=k["lo"], vmax=k["hi"])
    ax = fig.add_axes([AX_L / W, 1 - bottom / H, (AX_R - AX_L) / W, (bottom - top) / H])
    cax = fig.add_axes([CB_L / W, 1 - bottom / H, (CB_R - CB_L) / W, (bottom - top) / H])

    df = build_frame(PANEL_LEVELS[i], PANEL_POINTS[i], PANEL_KIND[i])
    sns.scatterplot(data=df, x="x", y="y", hue="v", palette=k["cmap"], hue_norm=norm,
                    s=15, linewidth=0, edgecolor="none", legend=False, ax=ax)

    ax.set_xlim(-17.6, 370.3)
    ax.set_ylim(-0.5, 11.55)
    ax.set_xticks(X_TICKS)
    ax.set_yticks(Y_TICKS)
    ax.tick_params(direction="in", length=5, width=1.1, labelsize=12, pad=6,
                   top=False, right=False)
    for sp in ax.spines.values():
        sp.set_linewidth(1.2)
    ax.set_xlabel(XLABELS[i], fontsize=13, labelpad=3)
    ax.set_ylabel("$y$ (mm)", fontsize=12.5, labelpad=4)

    fig.text(12 / W, 1 - TITLE_Y[i] / H, TITLES[i], fontsize=16, ha="left", va="center")

    sm = plt.cm.ScalarMappable(norm=norm, cmap=k["cmap"])
    cb = fig.colorbar(sm, cax=cax, ticks=k["ticks"])
    cb.ax.yaxis.set_major_formatter(make_fmt(k["fmt"]))
    cb.ax.tick_params(direction="in", length=6, width=1, labelsize=12, pad=6)
    cb.outline.set_linewidth(1.2)
    cb.set_label(k["label"], fontsize=12.5, labelpad=2)

fig.savefig("out.png", dpi=100)
